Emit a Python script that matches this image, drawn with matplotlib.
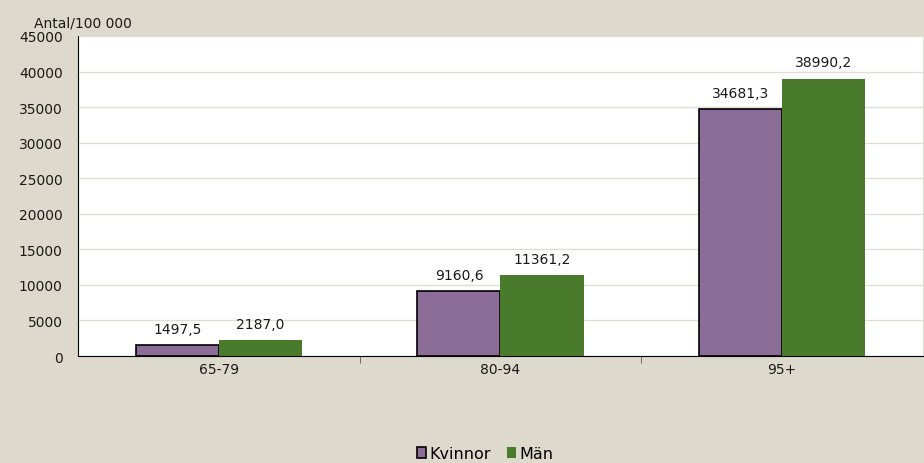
import numpy as np
import matplotlib.pyplot as plt

categories = ['65-79', '80-94', '95+']
kvinnor = [1497.5, 9160.6, 34681.3]
man = [2187.0, 11361.2, 38990.2]
yticks = [0, 5000, 10000, 15000, 20000, 25000, 30000, 35000, 40000, 45000]

bg = '#ddd9cd'
purple = '#8c6d98'
green = '#4a7a2b'
txt = '#1a1a1a'

plt.rcParams['font.family'] = ['DejaVu Sans']
fig = plt.figure(figsize=(9.24, 4.64), dpi=100, facecolor=bg)
ax = fig.add_axes([0.0844, 0.2306, 0.9145, 0.6897])
ax.set_facecolor('white')

x = np.arange(len(categories))
w = 0.295
b1 = ax.bar(x - w / 2, kvinnor, w, color=purple, edgecolor='black', linewidth=1.2, label='Kvinnor', zorder=3)
b2 = ax.bar(x + w / 2, man, w, color=green, linewidth=0, label='Män', zorder=3)

for bars, vals in [(b1, kvinnor), (b2, man)]:
    for r, v in zip(bars, vals):
        ax.text(r.get_x() + r.get_width() / 2, v + 1300, f'{v:.1f}'.replace('.', ','),
                ha='center', va='bottom', fontsize=10, color=txt)

ax.set_xlim(-0.5, 2.5)
ax.set_ylim(0, 45000)
ax.set_yticks(yticks)
ax.set_yticklabels([str(t) for t in yticks], fontsize=10, color=txt)
ax.yaxis.grid(True, color='#e0ddd5', linewidth=1, zorder=0)
ax.tick_params(axis='y', length=0, pad=11)

ax.set_xticks(x)
ax.set_xticklabels(categories, fontsize=10, color=txt)
ax.tick_params(axis='x', length=0, pad=4)
ax.set_xticks([0.5, 1.5], minor=True)
ax.tick_params(axis='x', which='minor', length=5, color='#555555')

for s in ['top', 'right']:
    ax.spines[s].set_visible(False)
ax.spines['left'].set_color('black')
ax.spines['bottom'].set_color('black')

fig.text(0.037, 0.94, 'Antal/100 000', fontsize=10, color=txt)

fig.legend(handles=[b1, b2], loc='lower center', bbox_to_anchor=(0.525, -0.027), ncol=2,
           frameon=False, fontsize=11.5, handlelength=0.6, handleheight=0.6,
           handletextpad=0.2, columnspacing=1.0)

fig.savefig('out.png', dpi=100, facecolor=bg)
